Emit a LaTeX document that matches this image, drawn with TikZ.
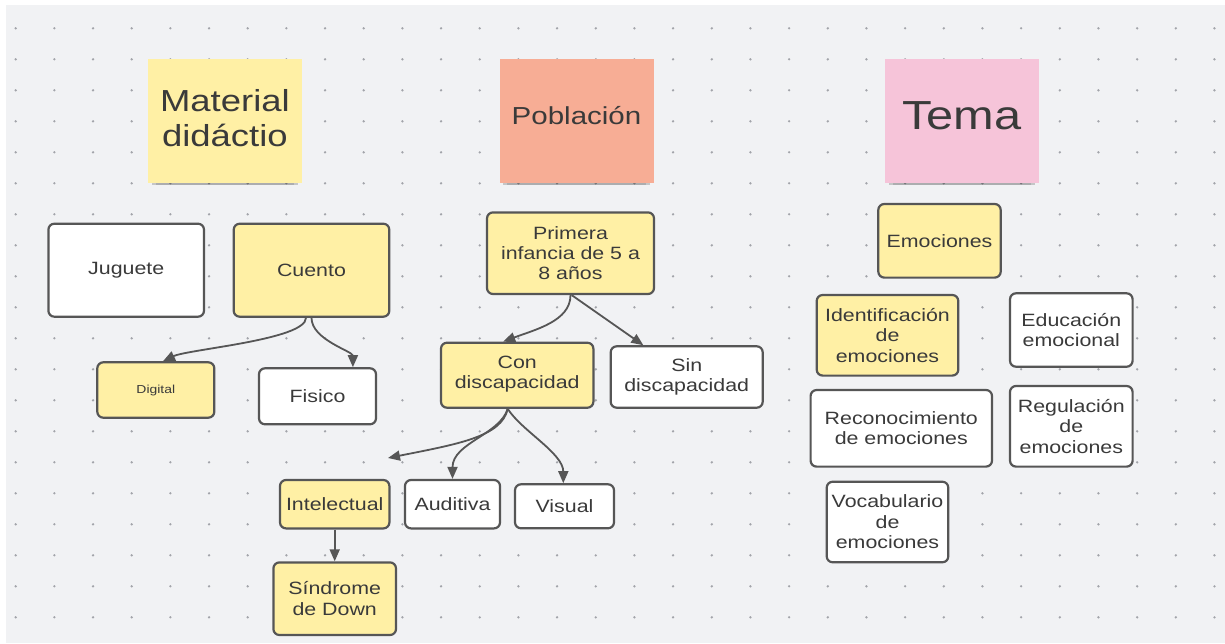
\documentclass[tikz,border=0pt]{standalone}
\usepackage{fontspec}
\setmainfont{Liberation Sans}[FakeStretch=1.2]
\usepackage{xcolor}
\usepackage{tikz}
\usetikzlibrary{arrows.meta,shadows}

\definecolor{canvas}{HTML}{F1F2F4}
\definecolor{dotgray}{HTML}{A2A4AA}
\definecolor{edgegray}{HTML}{565656}
\definecolor{inkgray}{HTML}{3A3A3A}
\definecolor{paleyellow}{HTML}{FFF0A5}
\definecolor{salmon}{HTML}{F7AD95}
\definecolor{rosepink}{HTML}{F6C4D9}

\tikzset{
  note/.style={minimum width=77pt, minimum height=62pt, inner sep=0pt, align=center, text=inkgray,
    drop shadow={shadow xshift=0pt, shadow yshift=-4.5pt, shadow scale=0.9, opacity=0.12, fill=black},
    drop shadow={shadow xshift=0pt, shadow yshift=-2.5pt, shadow scale=0.95, opacity=0.18, fill=black}},
  box/.style={draw=edgegray, line width=1.1pt, rounded corners=3pt, align=center, inner sep=1pt,
    text=inkgray, font=\fontsize{8.9}{10.2}\selectfont},
  ybox/.style={box, fill=paleyellow},
  wbox/.style={box, fill=white},
  link/.style={draw=edgegray, line width=0.9pt, -{Triangle[length=6pt,width=5pt]}}
}

\begin{document}
\begin{tikzpicture}[x=0.5pt, y=-0.5pt]
\useasboundingbox (0,0) rectangle (1225,643);
\fill[white] (0,0) rectangle (1225,643);
\fill[canvas] (6,5) rectangle (1225,643);

\foreach \i in {0,...,31} {
  \foreach \j in {0,...,19} {
    \fill[dotgray] (15.7+38.67*\i, 28.3+31*\j) circle[radius=0.65pt];
  }
}

\node[note, fill=paleyellow, text depth=3pt, font=\fontsize{15.2}{17.5}\selectfont] (material) at (224.9,120.9) {Material\\didáctio};
\node[note, fill=salmon, text depth=5.6pt, font=\fontsize{12.3}{14}\selectfont] (poblacion) at (576.5,120.9) {Población};
\node[note, fill=rosepink, text depth=5pt, font=\fontsize{20.3}{23}\selectfont] (tema) at (961.8,120.9) {Tema};

\node[wbox, minimum width=77.8pt, minimum height=46.5pt] (juguete) at (126.2,270.2) {Juguete};
\node[ybox, minimum width=77.8pt, minimum height=46.5pt] (cuento) at (311.5,270.2) {Cuento};
\node[ybox, minimum width=58.5pt, minimum height=27.7pt, font=\fontsize{5.8}{7}\selectfont] (digital) at (155.8,390) {Digital};
\node[wbox, minimum width=58.5pt, minimum height=28pt] (fisico) at (317.5,396.3) {Fisico};

\node[ybox, minimum width=83.5pt, minimum height=40.8pt] (infancia) at (570.5,253.2) {Primera\\infancia de 5 a\\8 años};
\node[ybox, minimum width=76.2pt, minimum height=32.5pt, text depth=3pt] (condisc) at (517.2,375.2) {Con\\discapacidad};
\node[wbox, minimum width=76pt, minimum height=30.7pt] (sindisc) at (686.7,377) {Sin\\discapacidad};
\node[ybox, minimum width=54.7pt, minimum height=24.2pt] (intelectual) at (334.7,504.2) {Intelectual};
\node[wbox, minimum width=47.5pt, minimum height=24.2pt] (auditiva) at (452.5,504.2) {Auditiva};
\node[wbox, minimum width=49.5pt, minimum height=22pt] (visual) at (564.5,506.3) {Visual};
\node[ybox, minimum width=61.3pt, minimum height=36.3pt] (down) at (334.7,598.7) {Síndrome\\de Down};
\coordinate (loose) at (388,458);

\node[ybox, minimum width=61.2pt, minimum height=36.8pt] (emociones) at (939.5,240.8) {Emociones};
\node[ybox, minimum width=70.8pt, minimum height=40.3pt] (identif) at (887.5,335.3) {Identificación\\de\\emociones};
\node[wbox, minimum width=61.3pt, minimum height=36.7pt] (educacion) at (1071.3,330) {Educación\\emocional};
\node[wbox, minimum width=90.7pt, minimum height=38.3pt] (reconoc) at (901.3,428.3) {Reconocimiento\\de emociones};
\node[wbox, minimum width=61.3pt, minimum height=40.3pt] (regulacion) at (1071.3,426.3) {Regulación\\de\\emociones};
\node[wbox, minimum width=60.8pt, minimum height=40.3pt] (vocab) at (887.5,522) {Vocabulario\\de\\emociones};

\draw[link] ([xshift=-2.75pt]cuento.south) .. controls +(0,22) and +(25,-12) .. ([xshift=3.6pt]digital.north);
\draw[link] (cuento.south) .. controls +(0,22) and +(0,-16) .. ([xshift=17.7pt]fisico.north);
\draw[link] (infancia.south) .. controls +(0,26) and +(32,-12) .. ([xshift=-7pt]condisc.north);
\draw[link] ([xshift=0.6pt]infancia.south) -- ([xshift=-21.7pt]sindisc.north);
\draw[link] ([xshift=-4.75pt]condisc.south) .. controls +(-6,28) and +(70,-14) .. (loose);
\draw[link] ([xshift=-4.75pt]condisc.south) .. controls +(-8,26) and +(0,-36) .. (auditiva.north);
\draw[link] ([xshift=-4.75pt]condisc.south) .. controls +(14,22) and +(0,-30) .. ([xshift=-0.6pt]visual.north);
\draw[link] (intelectual.south) -- (down.north);
\end{tikzpicture}
\end{document}
